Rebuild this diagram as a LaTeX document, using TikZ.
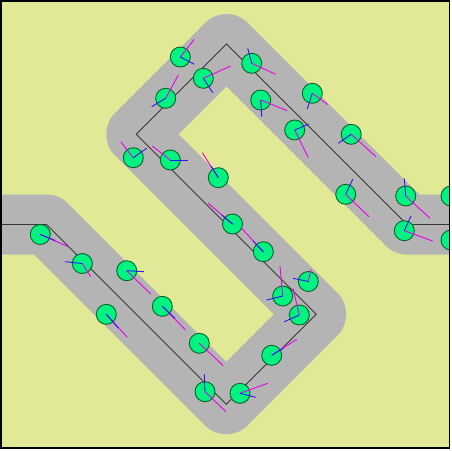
\documentclass[tikz,border=0pt]{standalone}
\begin{document}
\definecolor{bgc}{RGB}{225,233,150}
\definecolor{roadc}{RGB}{180,180,180}
\definecolor{boidfill}{RGB}{0,242,128}
\definecolor{boidline}{RGB}{10,100,40}
\definecolor{velc}{RGB}{235,0,235}
\definecolor{steerc}{RGB}{50,20,235}
\definecolor{pathc}{RGB}{55,55,55}
\begin{tikzpicture}[x=1pt,y=-1pt,
  boid/.style={circle,draw=boidline,fill=boidfill,line width=0.9pt,minimum size=20pt,inner sep=0pt},
  vel/.style={draw=velc,line width=0.9pt},
  steer/.style={draw=steerc,line width=0.9pt},
  road/.style={draw=roadc,line width=60pt,line join=round},
  pathline/.style={draw=pathc,line width=0.8pt}]
\useasboundingbox (0,0) rectangle (452,450);
\fill[white] (0,0) rectangle (452,450);
\begin{scope}
\clip (0.75,0.75) rectangle (449.5,448);
\fill[bgc] (0,0) rectangle (452,450);
\coordinate (p0) at (-5,224.5);
\coordinate (p1) at (46.5,224.5);
\coordinate (p2) at (226.25,404.25);
\coordinate (p3) at (316.25,314.25);
\coordinate (p4) at (136.25,134.25);
\coordinate (p5) at (226.5,44);
\coordinate (p6) at (407,224.5);
\coordinate (p7) at (460,224.5);
\draw[road] (p0) -- (p1) -- (p2) -- (p3) -- (p4) -- (p5) -- (p6) -- (p7);
\draw[pathline] (p0) -- (p1) -- (p2) -- (p3) -- (p4) -- (p5) -- (p6) -- (p7);
% boids: name / x / y / velocity end / steering end
\foreach \n/\x/\y/\mx/\my/\bx/\by in {
  A/180.3/57/194.3/39.3/194.3/64.3,
  B/203.3/78.3/230.7/66/212.7/92.7,
  C/165.7/98.3/178.3/75/151.7/106.7,
  D/133.3/157.7/120.7/141.7/146.7/148.3,
  E/170.3/160/152.3/146/187.7/160,
  F/218.3/177.7/202.3/152.7/211/166,
  G/232.5/224/208.3/203.3/221.7/215,
  H/263.3/251.7/241.7/228.3/253/241,
  I/308.3/281.5/311/269.3/293/278.3,
  J/282.7/296/280/266/266.7/300,
  K/299.3/315/293/288.3/284.3/321.7,
  L/271.7/355.3/296.7/339.3/283.3/348.3,
  M/205/391.7/226/411.7/204.3/374.3,
  N/240/393.3/267.7/383.3/255.7/397.3,
  O/199.3/343.3/223.3/365.7/199.3/343.3,
  P/162.3/306.3/185.3/329.7/175/318.3,
  Q/40.3/234.5/68.3/246.7/55/240.5,
  R/82.3/263.5/90.7/276.7/65/261.7,
  S/126.7/270.7/150.7/294/144/271.7,
  T/106.3/314.3/127.3/337.3/118.3/328,
  U/251.7/63.3/275.7/74.3/247.7/48.3,
  V/260.7/100/287.3/110.7/261.7/116.7,
  W/312.3/93.3/327.7/104.5/307.3/109,
  X/294.7/130/308.3/157.7/309/124,
  Y/351.2/134.3/376/156.7/338.3/143.3,
  Z/345.7/194.3/369/216.7/352.7/179.3,
  AA/405.7/196/430/218.3/404.3/178.3,
  AB/404.3/230.7/432.7/241/411/215.7,
  AC/451/196/462/206/451/196,
  AD/451/240/462/250/451/240}
{
  \node[boid] (b\n) at (\x,\y) {};
  \coordinate (m\n) at (\mx,\my);
  \coordinate (s\n) at (\bx,\by);
  \draw[vel] (b\n.center) -- (m\n);
  \draw[steer] (b\n.center) -- (s\n);
}
\end{scope}
\draw[black,line width=1.5pt] (0.75,0.75) rectangle (449.5,448);
\end{tikzpicture}
\end{document}
